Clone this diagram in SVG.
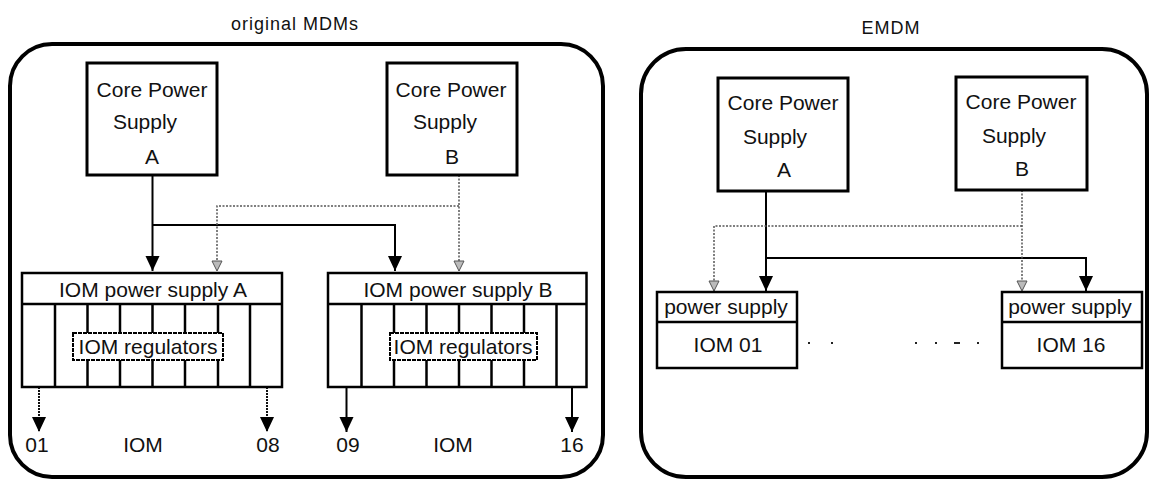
<svg xmlns="http://www.w3.org/2000/svg" width="1151" height="480" viewBox="0 0 1151 480">
<style>
text{font-family:"Liberation Sans",Arial,sans-serif;font-size:21px;fill:#111;text-anchor:middle}
.title{font-size:18px;letter-spacing:1px}
.panel{fill:none;stroke:#000;stroke-width:4}
.core{fill:#fff;stroke:#000;stroke-width:3}
.box{fill:#fff;stroke:#000;stroke-width:2.5}
.slot{stroke:#000;stroke-width:2.5}
.reg{fill:#fff;stroke:#000;stroke-width:2;stroke-dasharray:4 1}
.blk{fill:none;stroke:#000;stroke-width:2}
.gry{fill:none;stroke:#555;stroke-width:1.5;stroke-dasharray:2 1.5}
.dk{fill:none;stroke:#111;stroke-width:2;stroke-dasharray:2 1}
</style>
<defs>
<marker id="ah" viewBox="0 -8 16 16" refX="15" refY="0" markerWidth="16" markerHeight="16" markerUnits="userSpaceOnUse" orient="auto"><path d="M0,-7 L15,0 L0,7 z" fill="#000"/></marker>
<marker id="ahg" viewBox="0 -6 12 12" refX="11" refY="0" markerWidth="12" markerHeight="12" markerUnits="userSpaceOnUse" orient="auto"><path d="M1,-5 L11,0 L1,5 z" fill="#bbb" stroke="#555" stroke-width="1"/></marker>
</defs>
<rect width="1151" height="480" fill="#fff"/>

<g id="panel-original">
<text class="title" x="295" y="30">original MDMs</text>
<rect class="panel" x="10" y="44" width="593" height="433" rx="42"/>
</g>
<g id="panel-emdm">
<text class="title" x="891" y="34">EMDM</text>
<rect class="panel" x="641" y="49" width="506" height="428" rx="45"/>
</g>

<g id="connectors">
<path class="blk" d="M152.5,175 V271" marker-end="url(#ah)"/>
<path class="blk" d="M152.5,225 H395 V271" marker-end="url(#ah)"/>
<path class="gry" d="M459,175 V271" marker-end="url(#ahg)"/>
<path class="gry" d="M459,206 H217 V271" marker-end="url(#ahg)"/>
<path class="dk" d="M39,387 V432" marker-end="url(#ah)"/>
<path class="dk" d="M267,387 V432" marker-end="url(#ah)"/>
<path class="blk" d="M346.5,387 V432" marker-end="url(#ah)"/>
<path class="blk" d="M572,387 V432" marker-end="url(#ah)"/>
<path class="blk" d="M766,191 V291" marker-end="url(#ah)"/>
<path class="blk" d="M766,258 H1086 V291" marker-end="url(#ah)"/>
<path class="gry" d="M1022,190 V291" marker-end="url(#ahg)"/>
<path class="gry" d="M1022,226 H714 V291" marker-end="url(#ahg)"/>
</g>

<g id="core-a-left">
<rect class="core" x="87" y="63" width="130" height="112"/>
<text x="152" y="97">Core Power</text>
<text x="145" y="129">Supply</text>
<text x="152" y="164">A</text>
</g>
<g id="core-b-left">
<rect class="core" x="387" y="63" width="130" height="112"/>
<text x="451" y="97">Core Power</text>
<text x="445" y="129">Supply</text>
<text x="452" y="164">B</text>
</g>

<g id="iom-ps-a">
<rect class="box" x="22" y="273" width="260" height="114"/>
<line class="slot" x1="22" y1="304" x2="282" y2="304"/>
<line class="slot" x1="55" y1="304" x2="55" y2="387"/>
<line class="slot" x1="87.5" y1="304" x2="87.5" y2="387"/>
<line class="slot" x1="120" y1="304" x2="120" y2="387"/>
<line class="slot" x1="152.5" y1="304" x2="152.5" y2="387"/>
<line class="slot" x1="185" y1="304" x2="185" y2="387"/>
<line class="slot" x1="218" y1="304" x2="218" y2="387"/>
<line class="slot" x1="250" y1="304" x2="250" y2="387"/>
<text x="153" y="297">IOM power supply A</text>
<rect class="reg" x="73" y="333" width="150" height="27"/>
<text x="148" y="354">IOM regulators</text>
</g>
<g id="iom-ps-b">
<rect class="box" x="328" y="273" width="258.5" height="114"/>
<line class="slot" x1="328" y1="304" x2="586.5" y2="304"/>
<line class="slot" x1="361.5" y1="304" x2="361.5" y2="387"/>
<line class="slot" x1="394" y1="304" x2="394" y2="387"/>
<line class="slot" x1="426.5" y1="304" x2="426.5" y2="387"/>
<line class="slot" x1="459" y1="304" x2="459" y2="387"/>
<line class="slot" x1="491.5" y1="304" x2="491.5" y2="387"/>
<line class="slot" x1="524" y1="304" x2="524" y2="387"/>
<line class="slot" x1="556.5" y1="304" x2="556.5" y2="387"/>
<text x="458" y="297">IOM power supply B</text>
<rect class="reg" x="390" y="333" width="147" height="27"/>
<text x="463" y="354">IOM regulators</text>
</g>
<g id="iom-labels-left">
<text x="37" y="452">01</text>
<text x="143" y="452">IOM</text>
<text x="268" y="452">08</text>
<text x="348" y="452">09</text>
<text x="453" y="452">IOM</text>
<text x="572" y="452">16</text>
</g>

<g id="core-a-right">
<rect class="core" x="718" y="78" width="130" height="113"/>
<text x="783" y="110">Core Power</text>
<text x="775" y="144">Supply</text>
<text x="784" y="177">A</text>
</g>
<g id="core-b-right">
<rect class="core" x="956" y="77" width="131" height="113"/>
<text x="1021" y="109">Core Power</text>
<text x="1014" y="143">Supply</text>
<text x="1022" y="176">B</text>
</g>

<g id="iom-01">
<rect class="box" x="657" y="292" width="140" height="76"/>
<line class="slot" x1="657" y1="322" x2="797" y2="322"/>
<text x="726" y="314">power supply</text>
<text x="728" y="352">IOM 01</text>
</g>
<g id="iom-16">
<rect class="box" x="1002" y="292" width="140" height="76"/>
<line class="slot" x1="1002" y1="322" x2="1142" y2="322"/>
<text x="1070" y="314">power supply</text>
<text x="1071" y="352">IOM 16</text>
</g>
<g id="ellipsis" fill="#222">
<rect x="808" y="342" width="2" height="2"/>
<rect x="831" y="342" width="2" height="2"/>
<rect x="915" y="342" width="2" height="2"/>
<rect x="935" y="342" width="2" height="2"/>
<rect x="954" y="342" width="6" height="2"/>
<rect x="977" y="342" width="2" height="2"/>
</g>
</svg>
